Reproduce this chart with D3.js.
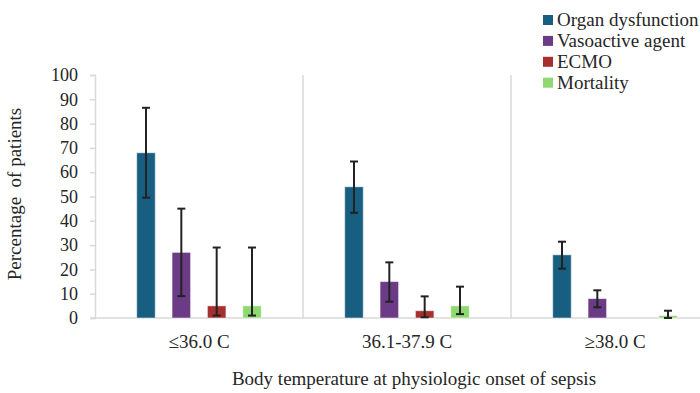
<!DOCTYPE html>
<html>
<head>
<meta charset="utf-8">
<script src="https://cdn.jsdelivr.net/npm/d3@7"></script>
</head>
<body style="margin:0;background:#fff">
<div id="chart"></div>
<script>
const categories = ["≤36.0 C", "36.1-37.9 C", "≥38.0 C"];
const series = ["Organ dysfunction", "Vasoactive agent", "ECMO", "Mortality"];
const colors = ["#175e80", "#6c3b86", "#a62f30", "#8fd872"];
// values[series][category]
const values = [
  [68, 54, 26],
  [27, 15, 8],
  [5, 3, 0],
  [5, 5, 1]
];
const errLow = [
  [49.5, 43.3, 20.3],
  [9, 6.7, 4.4],
  [1, 0.3, null],
  [1, 1.6, 0]
];
const errHigh = [
  [86.5, 64.4, 31.4],
  [45, 22.9, 11.4],
  [29, 8.9, null],
  [29, 12.9, 3]
];
const yTicks = [0, 10, 20, 30, 40, 50, 60, 70, 80, 90, 100];

const width = 700, height = 393;
const margin = {left: 95, top: 75, bottom: 75};
const plotRight = 719;
const font = "'Liberation Serif'";
const textColor = "#262626";

const svg = d3.select("#chart").append("svg")
  .attr("width", width).attr("height", height);

const x0 = d3.scaleBand().domain(categories).range([margin.left, plotRight]);
const x1 = d3.scaleBand().domain(series).range([0, x0.bandwidth()])
  .paddingInner(0.476).paddingOuter(1.18);
const y = d3.scaleLinear().domain([0, 100]).range([height - margin.bottom, margin.top]);

// category separators
svg.append("g").selectAll("line")
  .data(categories.slice(1))
  .enter().append("line")
  .attr("x1", d => x0(d)).attr("x2", d => x0(d))
  .attr("y1", y(100)).attr("y2", y(0))
  .attr("stroke", "#d9d9d9").attr("stroke-width", 1.5);

// y axis
const yAxis = d3.axisLeft(y).tickValues(yTicks).tickSize(5).tickPadding(12);
const gy = svg.append("g")
  .attr("transform", "translate(" + margin.left + ",0)")
  .call(yAxis);
gy.select(".domain").attr("stroke", "#d9d9d9").attr("stroke-width", 1.5);
gy.selectAll(".tick line").attr("stroke", "#d9d9d9").attr("stroke-width", 1.5);
gy.selectAll("text").attr("fill", textColor)
  .style("font-family", font).style("font-size", "18px");

// x axis
const xAxis = d3.axisBottom(x0).tickSize(0).tickPadding(16.5);
const gx = svg.append("g")
  .attr("transform", "translate(0," + y(0) + ")")
  .call(xAxis);
gx.select(".domain").attr("stroke", "#d9d9d9").attr("stroke-width", 1.5)
  .attr("d", "M" + (margin.left - 5) + ",0H" + plotRight);
gx.selectAll("text").attr("fill", textColor)
  .style("font-family", font).style("font-size", "19px");

// bars
const rows = [];
series.forEach((s, si) => {
  categories.forEach((c, ci) => {
    rows.push({s, si, c, v: values[si][ci], lo: errLow[si][ci], hi: errHigh[si][ci]});
  });
});

svg.append("g").selectAll("rect")
  .data(rows.filter(d => d.v > 0))
  .enter().append("rect")
  .attr("x", d => x0(d.c) + x1(d.s))
  .attr("y", d => y(d.v))
  .attr("width", x1.bandwidth())
  .attr("height", d => y(0) - y(d.v))
  .attr("fill", d => colors[d.si])
  .attr("stroke", "#ffffff").attr("stroke-opacity", 0.5).attr("stroke-width", 1);

// error bars
const eb = svg.append("g").selectAll("g")
  .data(rows.filter(d => d.hi != null))
  .enter().append("g")
  .attr("stroke", "#222").attr("stroke-width", 2);
const cx = d => x0(d.c) + x1(d.s) + x1.bandwidth() / 2;
eb.append("line")
  .attr("x1", cx).attr("x2", cx)
  .attr("y1", d => y(d.hi)).attr("y2", d => y(d.lo));
eb.append("line")
  .attr("x1", d => cx(d) - 4).attr("x2", d => cx(d) + 4)
  .attr("y1", d => y(d.hi)).attr("y2", d => y(d.hi));
eb.append("line")
  .attr("x1", d => cx(d) - 4).attr("x2", d => cx(d) + 4)
  .attr("y1", d => y(d.lo)).attr("y2", d => y(d.lo));

// axis titles
svg.append("text")
  .attr("transform", "translate(21,194) rotate(-90)")
  .attr("text-anchor", "middle")
  .attr("fill", textColor)
  .style("font-family", font).style("font-size", "19px")
  .style("white-space", "pre")
  .text("Percentage  of patients");

svg.append("text")
  .attr("x", 414).attr("y", 385)
  .attr("text-anchor", "middle")
  .attr("fill", textColor)
  .style("font-family", font).style("font-size", "19px")
  .text("Body temperature at physiologic onset of sepsis");

// legend
const legend = svg.append("g").attr("transform", "translate(543,15)");
const li = legend.selectAll("g").data(series).enter().append("g")
  .attr("transform", (d, i) => "translate(0," + i * 20.9 + ")");
li.append("rect").attr("width", 10).attr("height", 10)
  .attr("fill", (d, i) => colors[i]);
li.append("text").attr("x", 14).attr("y", 11)
  .attr("fill", textColor)
  .style("font-family", font).style("font-size", "19px")
  .text(d => d);
</script>
</body>
</html>
